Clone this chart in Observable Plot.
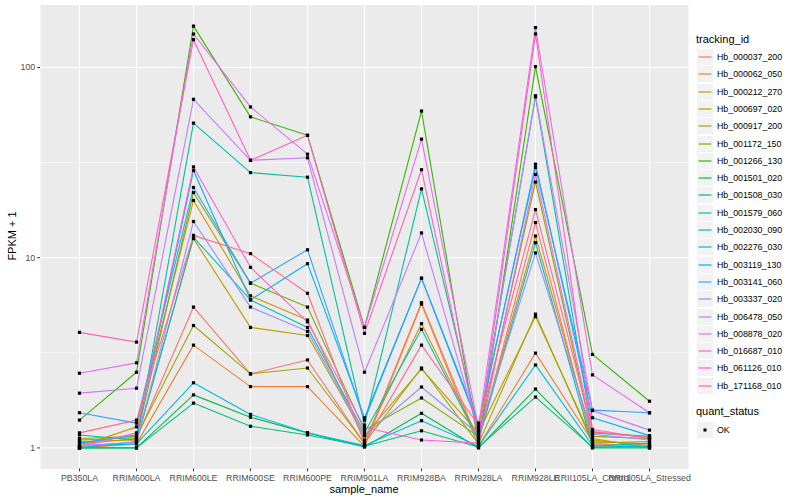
<!DOCTYPE html>
<html><head><meta charset="utf-8">
<script src="https://cdn.jsdelivr.net/npm/d3@7"></script>
<script src="https://cdn.jsdelivr.net/npm/@observablehq/plot@0.6"></script>
<style>
body{margin:0;background:#fff;font-family:"Liberation Sans",Arial,Helvetica,sans-serif;}
#wrap{position:relative;width:800px;height:500px;overflow:hidden;}
.ttl{position:absolute;font-size:11px;color:#000;white-space:nowrap;}
.leg{position:absolute;left:696px;top:0;width:104px;}
.row{position:absolute;left:1px;height:17px;display:flex;align-items:center;}
.key{width:16px;height:16px;background:#F2F2F2;position:relative;margin-right:4px;}
.key svg{position:absolute;left:0;top:0;}
.lbl{font-size:8.8px;color:#000;white-space:nowrap;}
</style></head><body><div id="wrap"></div>
<script>
const samples = ["PB350LA","RRIM600LA","RRIM600LE","RRIM600SE","RRIM600PE","RRIM901LA","RRIM928BA","RRIM928LA","RRIM928LE","RRII105LA_Control","RRII105LA_Stressed"];
const trackingIds = ["Hb_000037_200","Hb_000062_050","Hb_000212_270","Hb_000697_020","Hb_000917_200","Hb_001172_150","Hb_001266_130","Hb_001501_020","Hb_001508_030","Hb_001579_060","Hb_002030_090","Hb_002276_030","Hb_003119_130","Hb_003141_060","Hb_003337_020","Hb_006478_050","Hb_008878_020","Hb_016687_010","Hb_061126_010","Hb_171168_010"];
const colors = ["#F8766D","#EA8331","#D89000","#C09B00","#A3A500","#7CAE00","#39B600","#00BB4E","#00BF7D","#00C1A3","#00BFC4","#00BAE0","#00B0F6","#35A2FF","#9590FF","#C77CFF","#E76BF3","#FA62DB","#FF62BC","#FF6C91"];
const yTicks = [1, 10, 100];
const yMinor = [3.1623, 31.623];

const hb_000037_200 = [1.05, 1.12, 5.5, 2.45, 2.9, 1.05, 5.8, 1.08, 15.3, 1.05, 1.02];
const hb_000062_050 = [1.0, 1.05, 3.47, 2.1, 2.1, 1.02, 5.7, 1.02, 3.15, 1.08, 1.05];
const hb_000212_270 = [1.02, 1.29, 20, 6.3, 4.7, 1.1, 4.5, 1.12, 13, 1.12, 1.0];
const hb_000697_020 = [1.08, 1.1, 12.6, 4.3, 3.9, 1.16, 2.6, 1.2, 4.9, 1.1, 1.03];
const hb_000917_200 = [1.12, 1.15, 4.4, 2.45, 2.63, 1.06, 2.63, 1.05, 5.05, 1.06, 1.08];
const hb_001172_150 = [1.1, 1.13, 22, 7.35, 5.5, 1.24, 1.83, 1.15, 25, 1.15, 1.12];
const hb_001266_130 = [1.4, 2.5, 165, 55, 44, 4.3, 59, 1.04, 101, 3.1, 1.76];
const hb_001501_020 = [1.0, 1.0, 1.9, 1.45, 1.2, 1.01, 1.52, 1.0, 2.04, 1.0, 1.0];
const hb_001508_030 = [1.0, 1.0, 1.72, 1.3, 1.17, 1.02, 1.23, 1.01, 1.85, 1.01, 1.02];
const hb_001579_060 = [1.17, 1.1, 51, 28, 26.5, 1.32, 23, 1.25, 70, 1.2, 1.15];
const hb_002030_090 = [1.0, 1.08, 12.8, 6.0, 4.3, 1.2, 4.2, 1.1, 12, 1.02, 1.06];
const hb_002276_030 = [1.02, 1.05, 2.2, 1.5, 1.2, 1.03, 1.39, 1.02, 2.73, 1.03, 1.01];
const hb_003119_130 = [1.06, 1.17, 28.7, 6.0, 9.3, 1.44, 7.8, 1.3, 31, 1.44, 1.16];
const hb_003141_060 = [1.53, 1.35, 23.4, 7.35, 11, 1.4, 7.8, 1.35, 29.8, 1.58, 1.53];
const hb_003337_020 = [1.03, 1.07, 15.5, 5.5, 4.1, 1.16, 2.09, 1.18, 10.6, 1.18, 1.1];
const hb_006478_050 = [1.94, 2.06, 68, 32.5, 33.5, 2.5, 13.5, 1.22, 71, 1.57, 1.24];
const hb_008878_020 = [2.47, 2.8, 150, 62, 35, 4.3, 42, 1.28, 162, 2.42, 1.53];
const hb_016687_010 = [1.01, 1.2, 30, 8.9, 4.6, 1.28, 1.1, 1.06, 27.4, 1.22, 1.13];
const hb_061126_010 = [4.05, 3.6, 140, 32.5, 44, 4.0, 29, 1.14, 150, 1.25, 1.12];
const hb_171168_010 = [1.2, 1.4, 13.1, 10.5, 6.5, 1.06, 3.47, 1.32, 17.9, 1.21, 1.14];

const seriesValues = [hb_000037_200, hb_000062_050, hb_000212_270, hb_000697_020, hb_000917_200, hb_001172_150, hb_001266_130, hb_001501_020, hb_001508_030, hb_001579_060, hb_002030_090, hb_002276_030, hb_003119_130, hb_003141_060, hb_003337_020, hb_006478_050, hb_008878_020, hb_016687_010, hb_061126_010, hb_171168_010];

const rows = [];
trackingIds.forEach((id, i) => seriesValues[i].forEach((v, j) => rows.push({id, sample: samples[j], value: v, status: "OK"})));

// ggplot-like 5% expansion in log space
const ext = d3.extent(rows, d => Math.log10(d.value));
const pad = (ext[1] - ext[0]) * 0.05;
const yDomain = [Math.pow(10, ext[0] - pad), Math.pow(10, ext[1] + pad)];

const plot = Plot.plot({
  width: 800, height: 500,
  marginLeft: 40, marginRight: 112, marginTop: 4.5, marginBottom: 31.5,
  style: {fontFamily: "'Liberation Sans', Arial, Helvetica, sans-serif", fontSize: "8.8px", color: "#4D4D4D", background: "transparent"},
  x: {type: "point", domain: samples, padding: 0.6, label: null},
  y: {type: "log", domain: yDomain, label: null},
  color: {domain: trackingIds, range: colors},
  marks: [
    Plot.frame({fill: "#EBEBEB", stroke: null}),
    Plot.gridY(yMinor, {stroke: "white", strokeOpacity: 1, strokeWidth: 0.55}),
    Plot.gridY(yTicks, {stroke: "white", strokeOpacity: 1, strokeWidth: 1.1}),
    Plot.gridX(samples, {stroke: "white", strokeOpacity: 1, strokeWidth: 1.1}),
    Plot.axisX(samples, {tickSize: 2.75, tickPadding: 2.5, stroke: "#333333", fill: "#4D4D4D", label: null}),
    Plot.axisY(yTicks, {tickSize: 2.75, tickPadding: 2.5, stroke: "#333333", fill: "#4D4D4D", tickFormat: d => String(d), label: null}),
    Plot.line(rows, {x: "sample", y: "value", z: "id", stroke: "id", strokeWidth: 1.1}),
    Plot.dot(rows, {x: "sample", y: "value", fill: "black", symbol: "square", r: 1.8})
  ]
});

const wrap = document.getElementById("wrap");
wrap.appendChild(plot);

// axis titles
const xt = document.createElement("div");
xt.className = "ttl"; xt.textContent = "sample_name";
xt.style.left = "364px"; xt.style.top = "483px"; xt.style.transform = "translateX(-50%)";
wrap.appendChild(xt);
const yt = document.createElement("div");
yt.className = "ttl"; yt.textContent = "FPKM + 1";
yt.style.left = "12px"; yt.style.top = "236px"; yt.style.transform = "translate(-50%,-50%) rotate(-90deg)";
wrap.appendChild(yt);

// legend
const leg = document.createElement("div");
leg.className = "leg";
wrap.appendChild(leg);
const t1 = document.createElement("div");
t1.className = "ttl"; t1.style.left = "0px"; t1.style.top = "33px"; t1.textContent = "tracking_id";
leg.appendChild(t1);
const NS = "http://www.w3.org/2000/svg";
trackingIds.forEach((id, i) => {
  const r = document.createElement("div");
  r.className = "row"; r.style.top = Math.round(48 + i * 17.3) + "px";
  const k = document.createElement("div"); k.className = "key";
  const s = document.createElementNS(NS, "svg"); s.setAttribute("width", 16); s.setAttribute("height", 16);
  const ln = document.createElementNS(NS, "line");
  ln.setAttribute("x1", 1.5); ln.setAttribute("x2", 14.5); ln.setAttribute("y1", 8); ln.setAttribute("y2", 8);
  ln.setAttribute("stroke", colors[i]); ln.setAttribute("stroke-width", 1.2);
  s.appendChild(ln); k.appendChild(s); r.appendChild(k);
  const l = document.createElement("span"); l.className = "lbl"; l.textContent = id;
  r.appendChild(l); leg.appendChild(r);
});
const t2 = document.createElement("div");
t2.className = "ttl"; t2.style.left = "0px"; t2.style.top = "405px"; t2.textContent = "quant_status";
leg.appendChild(t2);
const r2 = document.createElement("div");
r2.className = "row"; r2.style.top = "421px";
const k2 = document.createElement("div"); k2.className = "key";
const s2 = document.createElementNS(NS, "svg"); s2.setAttribute("width", 16); s2.setAttribute("height", 16);
const sq = document.createElementNS(NS, "rect");
sq.setAttribute("x", 6.5); sq.setAttribute("y", 6.5); sq.setAttribute("width", 3); sq.setAttribute("height", 3); sq.setAttribute("fill", "#000");
s2.appendChild(sq); k2.appendChild(s2); r2.appendChild(k2);
const l2 = document.createElement("span"); l2.className = "lbl"; l2.textContent = [...new Set(rows.map(d => d.status))][0];
r2.appendChild(l2); leg.appendChild(r2);
</script>
</body></html>
